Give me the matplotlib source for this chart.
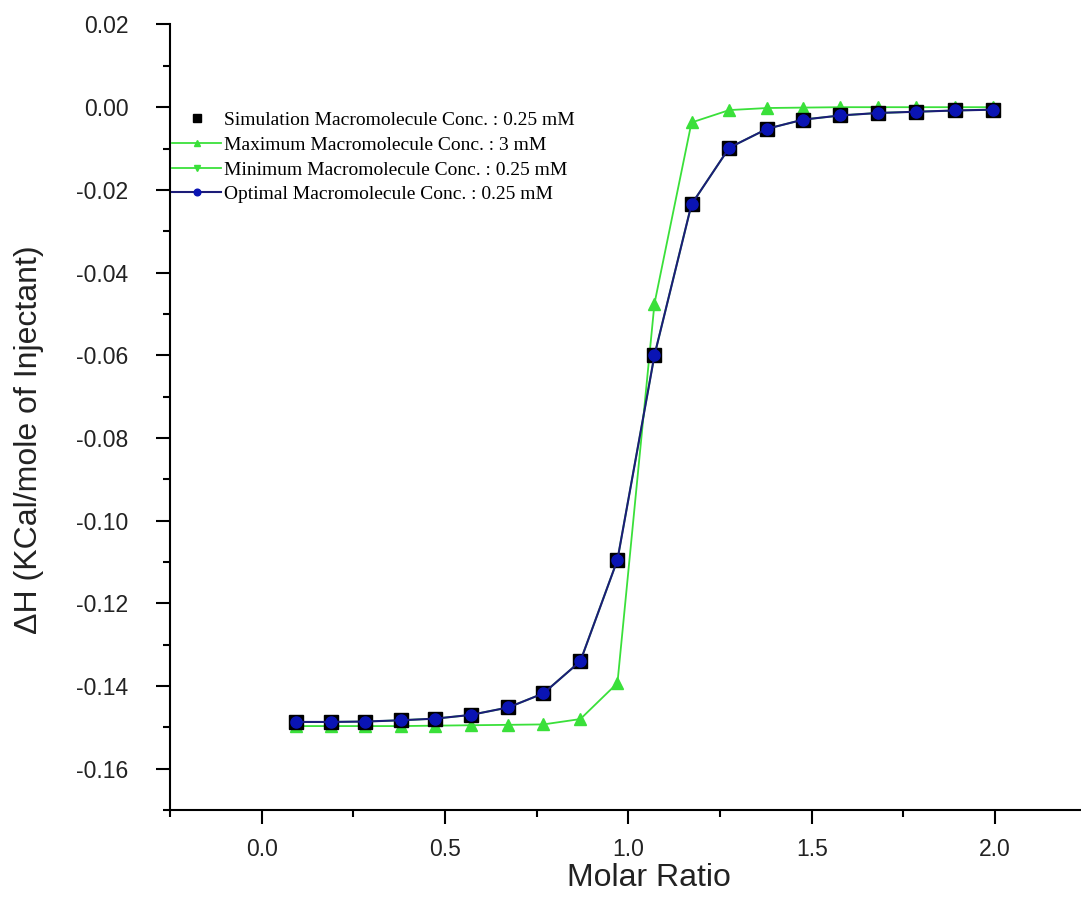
import matplotlib
matplotlib.use("Agg")
import matplotlib.pyplot as plt
from matplotlib.ticker import MultipleLocator, FormatStrFormatter

plt.rcParams['axes.unicode_minus'] = False
plt.rcParams['font.family'] = ['Liberation Sans', 'DejaVu Sans']

molar_ratio = [0.093, 0.188, 0.283, 0.379, 0.473, 0.570, 0.672, 0.768, 0.869, 0.970,
               1.071, 1.172, 1.275, 1.379, 1.477, 1.578, 1.681, 1.785, 1.891, 1.995]
simulation = [-0.1487, -0.1487, -0.1486, -0.1483, -0.1479, -0.1470, -0.1452, -0.1418, -0.1340, -0.1095,
              -0.0600, -0.0235, -0.0098, -0.0052, -0.0030, -0.0020, -0.0014, -0.0011, -0.0008, -0.0006]
maximum = [-0.1497, -0.1497, -0.1497, -0.1497, -0.1496, -0.1495, -0.1494, -0.1493, -0.1480, -0.1393,
           -0.0475, -0.0037, -0.0007, -0.0002, -0.0001, 0.0000, 0.0000, 0.0000, 0.0000, 0.0000]
minimum = list(simulation)
optimal = list(simulation)

labels = ["Simulation Macromolecule Conc. : 0.25 mM",
          "Maximum Macromolecule Conc. : 3 mM",
          "Minimum Macromolecule Conc. : 0.25 mM",
          "Optimal Macromolecule Conc. : 0.25 mM"]

fig = plt.figure(figsize=(10.81, 8.99), dpi=100)
ax = fig.add_axes([170/1081, 1-810/899, 1-170/1081, (810-24.5)/899])

green = '#3ae03a'
navy = '#1c1c78'
blue = '#0a14b4'

h_max, = ax.plot(molar_ratio, maximum, '-', color=green, lw=1.3, marker='^', ms=8,
                 mfc=green, mec=green, label=labels[1], zorder=2)
h_min, = ax.plot(molar_ratio, minimum, '-', color=green, lw=1.3, marker='v', ms=8,
                 mfc=green, mec=green, label=labels[2], zorder=3)
h_sim, = ax.plot(molar_ratio, simulation, 's', color='black', ms=9.5, label=labels[0], zorder=4)
h_opt, = ax.plot(molar_ratio, optimal, '-', color=navy, lw=1.5, marker='o', ms=8,
                 mfc=blue, mec=blue, label=labels[3], zorder=5)

ax.set_xlim(-0.25, 2.234)
ax.set_ylim(-0.17, 0.02)

ax.xaxis.set_major_locator(MultipleLocator(0.5))
ax.xaxis.set_minor_locator(MultipleLocator(0.25))
ax.yaxis.set_major_locator(MultipleLocator(0.02))
ax.yaxis.set_minor_locator(MultipleLocator(0.01))
ax.xaxis.set_major_formatter(FormatStrFormatter('%.1f'))
ax.yaxis.set_major_formatter(FormatStrFormatter('%.2f'))

for s in ['top', 'right']:
    ax.spines[s].set_visible(False)
for s in ['left', 'bottom']:
    ax.spines[s].set_linewidth(1.5)

ax.tick_params(axis='both', which='major', direction='out', length=10, width=1.5,
               labelsize=16.5, labelcolor='#222222')
ax.tick_params(axis='both', which='minor', direction='out', length=5, width=1.5)
ax.tick_params(axis='y', which='major', pad=20)
ax.tick_params(axis='x', which='major', pad=10)

fig.text(649/1081, 1-878/899, 'Molar Ratio', ha='center', va='center', fontsize=23, color='#222222')
fig.text(29/1081, 1-440/899, 'ΔH (KCal/mole of Injectant)', ha='center', va='center',
         rotation=90, fontsize=23, color='#222222')

leg = ax.legend(handles=[h_sim, h_max, h_min, h_opt], loc='upper left',
                bbox_to_anchor=(0.002, 0.889), frameon=False, borderpad=0, borderaxespad=0,
                prop={'family': 'Liberation Serif', 'size': 14}, handlelength=2.55,
                handletextpad=0.15, labelspacing=0.36, markerscale=0.6)

fig.savefig('out.png', dpi=100)
